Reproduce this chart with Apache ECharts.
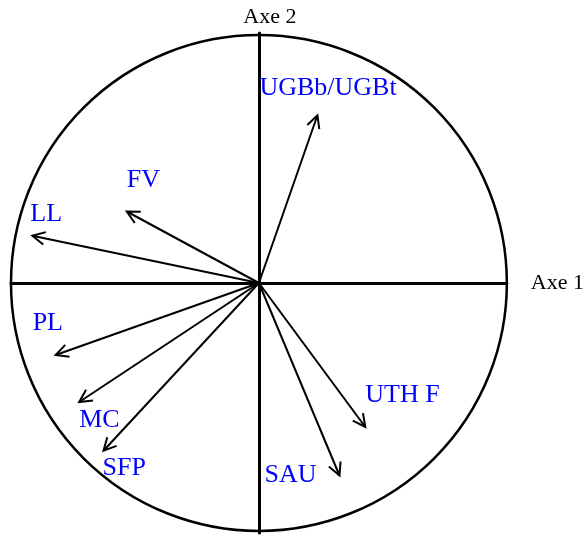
<!DOCTYPE html>
<html>
<head>
<meta charset="utf-8">
<script src="https://cdn.jsdelivr.net/npm/echarts@6/dist/echarts.min.js"></script>
<style>
  html, body { margin: 0; padding: 0; background: #fff; }
  #chart { width: 587px; height: 535px; }
</style>
</head>
<body>
<div id="chart"></div>
<script>
// variables and their coordinates on the correlation circle (Axe 1, Axe 2)
var varNames = ['UGBb/UGBt', 'FV', 'LL', 'PL', 'MC', 'SFP', 'UTH F', 'SAU'];
var axe1 = [0.236, -0.533, -0.914, -0.820, -0.725, -0.627, 0.429, 0.325];
var axe2 = [0.671, 0.286, 0.189, -0.288, -0.476, -0.671, -0.576, -0.770];

// where each name sits relative to its arrow tip (pixels: left edge, middle)
var labelOffset = [[-58, -27], [0, -31], [-2, -22], [-23, -32], [0, 18], [-1, 17], [0, -32], [-75, 0]];

var font = "'Liberation Serif', 'Times New Roman', serif";
var chart = echarts.init(document.getElementById('chart'));

var arrowData = varNames.map(function (name, i) {
    return [axe1[i], axe2[i], i];
});

function hideAxisParts() {
    return {
        axisTick: { show: false },
        axisLabel: { show: false },
        splitLine: { show: false }
    };
}

chart.setOption({
    animation: false,
    grid: { left: 11, top: 33, width: 500, height: 500 },
    xAxis: Object.assign({
        type: 'value', min: -1, max: 1,
        name: 'Axe 1',
        nameLocation: 'end',
        nameGap: 24,
        nameTextStyle: { fontFamily: font, fontSize: 22, color: '#000', padding: [20, 0, 0, 0] },
        axisLine: { onZero: true, lineStyle: { color: '#000', width: 3 } }
    }, hideAxisParts()),
    yAxis: Object.assign({
        type: 'value', min: -1, max: 1,
        name: 'Axe 2',
        nameLocation: 'end',
        nameGap: 5,
        nameTextStyle: { fontFamily: font, fontSize: 22, color: '#000', padding: [0, 0, 0, 22] },
        axisLine: { onZero: true, lineStyle: { color: '#000', width: 3 } }
    }, hideAxisParts()),
    series: [
        {
            // unit circle
            type: 'custom',
            data: [[0, 0]],
            silent: true,
            clip: false,
            renderItem: function (params, api) {
                var c = api.coord([0, 0]);
                var r = api.size([1, 1])[0];
                return {
                    type: 'circle',
                    shape: { cx: c[0], cy: c[1], r: r },
                    style: { fill: 'none', stroke: '#000', lineWidth: 2.5 }
                };
            }
        },
        {
            type: 'custom',
            data: arrowData,
            silent: true,
            clip: false,
            renderItem: function (params, api) {
                var o = api.coord([0, 0]);
                var p = api.coord([api.value(0), api.value(1)]);
                var idx = api.value(2);
                var ang = Math.atan2(p[1] - o[1], p[0] - o[0]);
                var len = 14, spread = 0.47;
                var h1 = [p[0] - len * Math.cos(ang - spread), p[1] - len * Math.sin(ang - spread)];
                var h2 = [p[0] - len * Math.cos(ang + spread), p[1] - len * Math.sin(ang + spread)];
                var off = labelOffset[idx];
                var lineStyle = { stroke: '#000', lineWidth: 2 };
                return {
                    type: 'group',
                    children: [
                        { type: 'line', shape: { x1: o[0], y1: o[1], x2: p[0], y2: p[1] }, style: lineStyle },
                        { type: 'polyline', shape: { points: [h1, p, h2] }, style: Object.assign({ fill: 'none' }, lineStyle) },
                        {
                            type: 'text',
                            x: p[0] + off[0],
                            y: p[1] + off[1],
                            style: {
                                text: varNames[idx],
                                fill: '#0000ff',
                                font: '26px ' + font,
                                textAlign: 'left',
                                textVerticalAlign: 'middle'
                            }
                        }
                    ]
                };
            }
        }
    ]
});
</script>
</body>
</html>
